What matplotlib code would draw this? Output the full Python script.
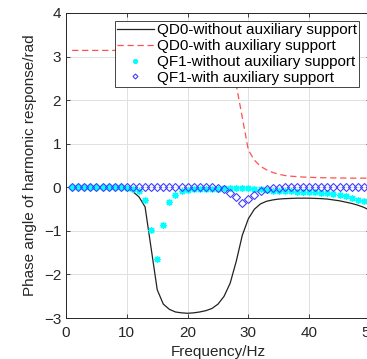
import numpy as np
import matplotlib
matplotlib.use("Agg")
import matplotlib.pyplot as plt

plt.rcParams['font.family'] = ['Liberation Sans', 'DejaVu Sans']

# frequency grid, 1 Hz steps
freq = np.arange(1, 51)

# QD0 without auxiliary support (black solid)
qd0_without = [0, 0, 0, 0, 0, 0, 0, 0, 0, -0.03,
               -0.1, -0.22, -0.45, -1.4, -2.35, -2.68, -2.8, -2.86, -2.88, -2.89,
               -2.88, -2.86, -2.83, -2.78, -2.68, -2.5, -2.2, -1.7, -1.1, -0.72,
               -0.5, -0.38, -0.32, -0.29, -0.27, -0.26, -0.255, -0.25, -0.25, -0.25,
               -0.255, -0.26, -0.27, -0.29, -0.31, -0.34, -0.37, -0.41, -0.46, -0.53]

# QD0 with auxiliary support (red dashed)
qd0_with = [3.14, 3.14, 3.14, 3.14, 3.14, 3.14, 3.14, 3.14, 3.14, 3.14,
            3.14, 3.14, 3.14, 3.14, 3.14, 3.14, 3.14, 3.14, 3.14, 3.14,
            3.13, 3.12, 3.1, 3.06, 3.0, 2.9, 2.75, 2.35, 1.6, 0.85,
            0.62, 0.48, 0.4, 0.34, 0.3, 0.27, 0.255, 0.245, 0.235, 0.23,
            0.225, 0.22, 0.218, 0.215, 0.213, 0.212, 0.21, 0.21, 0.21, 0.21]

# QF1 without auxiliary support (cyan asterisks)
qf1_without = [0, 0, 0, 0, 0, 0, 0, 0, 0, -0.01,
               -0.03, -0.09, -0.3, -0.98, -1.65, -0.87, -0.33, -0.17, -0.09, -0.06,
               -0.05, -0.04, -0.04, -0.03, -0.03, -0.02, -0.02, -0.02, -0.02, -0.02,
               -0.03, -0.05, -0.07, -0.08, -0.08, -0.09, -0.09, -0.1, -0.1, -0.11,
               -0.11, -0.12, -0.14, -0.16, -0.18, -0.21, -0.24, -0.28, -0.32, -0.36]

# QF1 with auxiliary support (blue open diamonds)
qf1_with = [0, 0, 0, 0, 0, 0, 0, 0, 0, 0,
            0, 0, 0, 0, 0, 0, 0, 0, 0, 0,
            0, 0, 0, 0, -0.01, -0.05, -0.13, -0.23, -0.36, -0.27,
            -0.17, -0.09, -0.04, -0.02, -0.01, 0, 0, 0, 0, 0,
            0, 0, 0, 0, 0, 0, 0, 0, 0, 0]

fig = plt.figure(figsize=(3.67, 3.59), dpi=100)
ax = fig.add_axes([0.18, 0.114, 0.828, 0.85])

ax.plot(freq, qd0_without, color='#222222', lw=0.9, label='QD0-without auxiliary support')
ax.plot(freq, qd0_with, color='#ff5050', lw=0.9, ls=(0, (5, 3)), label='QD0-with auxiliary support')
ax.plot(freq, qf1_without, ls='none', marker=(8, 2, 0), ms=5, mew=0.9, color='cyan',
        label='QF1-without auxiliary support')
ax.plot(freq, qf1_with, ls='none', marker='D', ms=3.6, mew=0.8, mfc='none', color='#4040ff',
        label='QF1-with auxiliary support')

ax.set_xlim(0, 50)
ax.set_ylim(-3, 4)
ax.set_xticks([0, 10, 20, 30, 40, 50])
ax.set_yticks([-3, -2, -1, 0, 1, 2, 3, 4])
ax.grid(True, color='#e0e0e0', lw=0.7)
ax.set_axisbelow(True)
ax.tick_params(direction='in', top=True, right=True, labelsize=11, length=3, width=0.6,
               colors='#262626')
ax.tick_params(axis='x', pad=6)
for s in ax.spines.values():
    s.set_linewidth(0.7)
    s.set_color('#262626')

ax.set_xlabel('Frequency/Hz', fontsize=11, color='#262626', labelpad=3)
ax.set_ylabel('Phase angle of harmonic response/rad', fontsize=11, color='#262626', labelpad=5)

leg = ax.legend(loc='upper right', bbox_to_anchor=(359 / 367, 1 - 21 / 359),
                bbox_transform=fig.transFigure, fontsize=11, frameon=True, fancybox=False,
                borderpad=0.15, labelspacing=0.12, handlelength=2.4, handletextpad=0.2,
                borderaxespad=0, markerscale=0.7)
leg.get_frame().set_edgecolor('#262626')
leg.get_frame().set_linewidth(0.6)
leg.get_frame().set_alpha(1)

fig.savefig('out.png', dpi=100)
